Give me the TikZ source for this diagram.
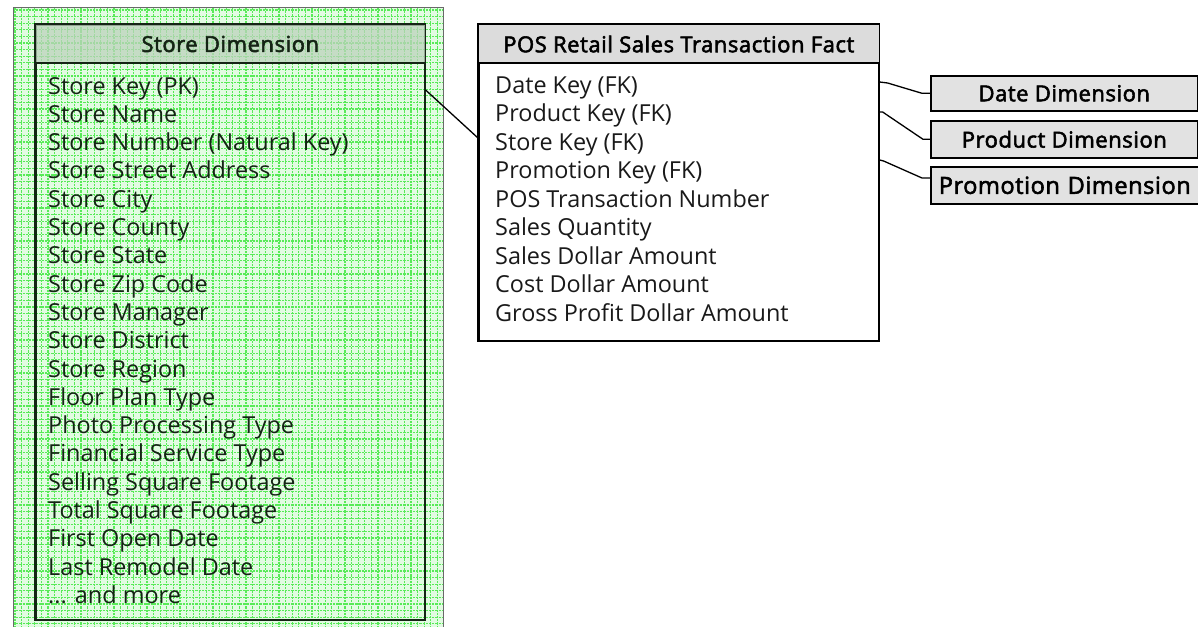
\documentclass[tikz,border=0pt]{standalone}
\usepackage{fontspec}
\setmainfont{Open Sans}
\newfontfamily\hdrfont[FakeBold=2.5, LetterSpace=2.5]{Open Sans}
\usetikzlibrary{calc}
\definecolor{gridbg}{HTML}{E2FBE2}
\definecolor{gridln}{HTML}{58EA58}
\definecolor{storeink}{HTML}{142414}
\definecolor{hdrgreen}{HTML}{BCD2BC}
\definecolor{hdrgray}{HTML}{DCDCDC}
\definecolor{dimgray}{HTML}{E2E2E2}
\definecolor{panelrim}{HTML}{6A6A6A}

\begin{document}
\begin{tikzpicture}[x=1pt,y=-1pt,
  rowfont/.style={font=\fontsize{23.4}{28}\selectfont},
  storerow/.style={rowfont, anchor=base west, inner sep=0pt, text=storeink},
  factrow/.style={rowfont, anchor=base west, inner sep=0pt, text=black!90},
  hdrtext/.style={font=\hdrfont\fontsize{22}{26}\selectfont, inner sep=0pt},
  tablebox/.style={draw, line width=1.6pt, anchor=north west, inner sep=0pt},
  dimbox/.style={draw=black, fill=dimgray, line width=1.6pt, anchor=north west,
    inner sep=0pt, font=\hdrfont\fontsize{22}{26}\selectfont},
  conn/.style={draw=black, line width=1.3pt}]
\useasboundingbox (0,0) rectangle (1198,626);
\clip (0,0) rectangle (1198,626);

% gridded green panel behind the store table
\fill[gridbg] (13,8) rectangle (443,640);
\begin{scope}
  \clip (13,8) rectangle (443,640);
  \foreach \gx in {0,...,66} {
    \draw[gridln, line width=1.1pt, dash pattern=on 2.2pt off 1pt] ({15+6.6*\gx},8) -- ({15+6.6*\gx},640);
  }
  \foreach \gy in {0,...,96} {
    \draw[gridln, line width=1.1pt, dash pattern=on 2.2pt off 1pt] (13,{10+6.6*\gy}) -- (443,{10+6.6*\gy});
  }
\end{scope}
\draw[panelrim, line width=1pt] (13,640) -- (13,8) -- (443,8) -- (443,640);

% store dimension table
\node[tablebox, draw=storeink, minimum width=389pt, minimum height=595pt] (store) at (35,24) {};
\fill[hdrgreen, opacity=0.75] (store.north west) rectangle ($(store.north east)+(0,39)$);
\draw[storeink, line width=1.6pt] ($(store.north west)+(0,39)$) -- ($(store.north east)+(0,39)$);
\draw[storeink, line width=1.6pt] (store.north west) rectangle (store.south east);
\node[hdrtext, text=storeink] (storehdr) at ($(store.north)+(0,20)$) {Store Dimension};

\foreach \txt [count=\i] in {Store Key (PK), Store Name, Store Number (Natural Key),
  Store Street Address, Store City, Store County, Store State, Store Zip Code,
  Store Manager, Store District, Store Region, Floor Plan Type,
  Photo Processing Type, Financial Service Type, Selling Square Footage,
  Total Square Footage, First Open Date, Last Remodel Date, {{...} and more}} {
  \node[storerow] (s\i) at (48,{94+28.3*(\i-1)}) {\txt};
}

% fact table
\node[tablebox, draw=black, minimum width=400pt, minimum height=316pt] (fact) at (478,24) {};
\fill[hdrgray] (fact.north west) rectangle ($(fact.north east)+(0,39)$);
\draw[black, line width=1.6pt] ($(fact.north west)+(0,39)$) -- ($(fact.north east)+(0,39)$);
\draw[black, line width=1.6pt] (fact.north west) rectangle (fact.south east);
\node[hdrtext] (facthdr) at ($(fact.north)+(0,20)$) {POS Retail Sales Transaction Fact};

\foreach \txt [count=\i] in {Date Key (FK), Product Key (FK), Store Key (FK),
  Promotion Key (FK), POS Transaction Number, Sales Quantity,
  Sales Dollar Amount, Cost Dollar Amount, Gross Profit Dollar Amount} {
  \node[factrow] (f\i) at (495,{93+28.5*(\i-1)}) {\txt};
}

% dimension boxes
\node[dimbox, minimum width=267pt, minimum height=35pt] (date) at (930,75) {Date Dimension};
\node[dimbox, minimum width=267pt, minimum height=37pt] (product) at (930,120) {Product Dimension};
\node[dimbox, minimum width=290pt, minimum height=37pt, text width=280pt, align=left,
  inner xsep=8pt, font=\hdrfont\fontsize{23.5}{26}\selectfont] (promo) at (930,166) {Promotion Dimension};

% key connectors
\draw[conn] ($(store.north east)+(0,66)$) -- ($(fact.north west)+(0,114)$);
\draw[conn] ($(fact.north east)+(0,58)$) -- ++(8,1) -- ($(date.west)+(-8,0)$) -- (date.west);
\draw[conn] ($(fact.north east)+(0,88)$) -- ++(3,0) -- ($(product.west)+(-7,0)$) -- (product.west);
\draw[conn] ($(fact.north east)+(0,136)$) -- ++(4,1) -- ($(promo.north west)+(-8,12)$) -- ($(promo.north west)+(0,12)$);
\end{tikzpicture}
\end{document}
